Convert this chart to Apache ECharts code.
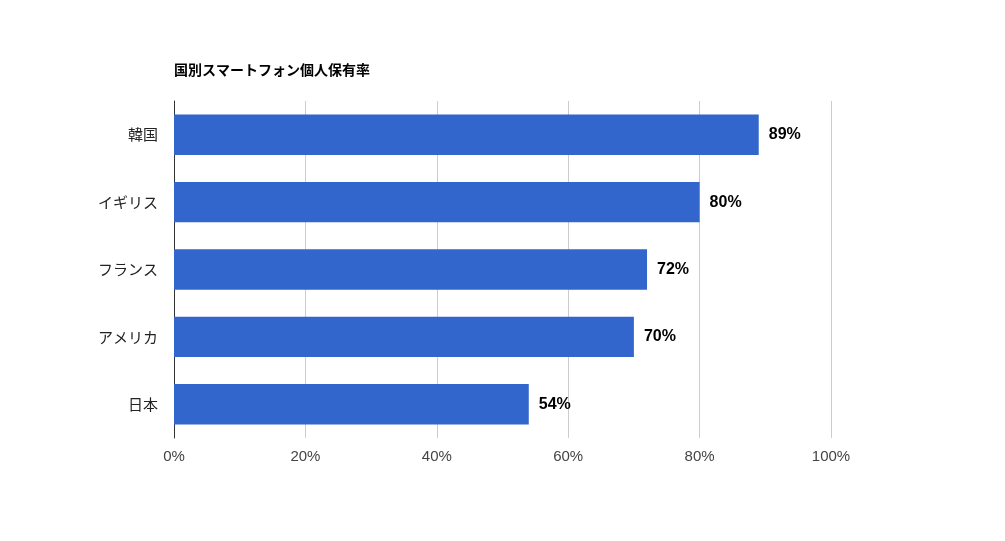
<!DOCTYPE html>
<html><head><meta charset="utf-8">
<script src="https://cdn.jsdelivr.net/npm/echarts@6/dist/echarts.min.js"></script>
<style>html,body{margin:0;padding:0;background:#fff}#c{width:1005px;height:541px}</style>
</head><body><div id="c"></div>
<script>
const titleText = '国別スマートフォン個人保有率';
const categories = ['日本', 'アメリカ', 'フランス', 'イギリス', '韓国'];
const values = [54, 70, 72, 80, 89];
const xTicks = [0, 20, 40, 60, 80, 100];

const chart = echarts.init(document.getElementById('c'));
chart.setOption({
  animation: false,
  backgroundColor: '#fff',
  title: {
    text: titleText, left: 169, top: 58,
    textStyle: { fontSize: 14, fontWeight: 'bold', color: '#000', fontFamily: '"Noto Sans CJK JP", sans-serif' }
  },
  grid: { left: 174, right: 174, top: 101, bottom: 103, containLabel: false },
  xAxis: {
    type: 'value', min: 0, max: 100, interval: 20,
    axisLine: { show: false }, axisTick: { show: false },
    splitLine: { lineStyle: { color: '#cccccc', width: 1 } },
    axisLabel: { formatter: v => v + '%', color: '#444', fontSize: 15, margin: 11, fontFamily: '"Liberation Sans", Arial, sans-serif' }
  },
  yAxis: {
    type: 'category', data: categories,
    axisLine: { show: true, lineStyle: { color: '#333', width: 1 } },
    axisTick: { show: false },
    axisLabel: { color: '#222', fontSize: 15, margin: 16, fontFamily: '"Noto Sans CJK JP", sans-serif' }
  },
  series: [{
    type: 'bar', data: values, barCategoryGap: '40%',
    itemStyle: { color: '#3366cc' },
    label: {
      show: true, position: 'right', distance: 10,
      formatter: p => p.value + '%',
      color: '#000', fontSize: 16, fontWeight: 'bold', fontFamily: '"Liberation Sans", Arial, sans-serif'
    }
  }]
});
</script></body></html>
